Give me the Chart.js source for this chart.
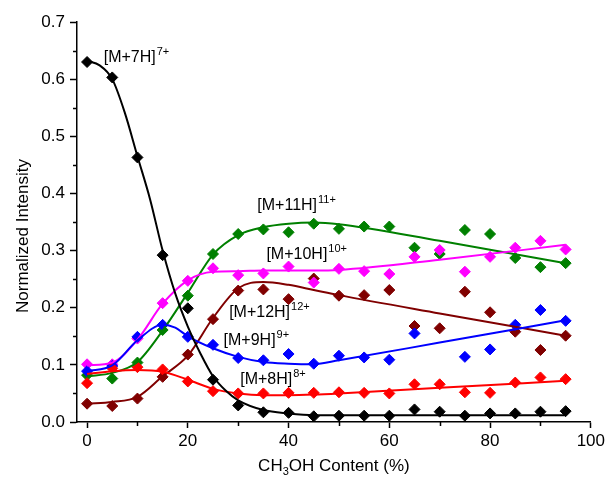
<!DOCTYPE html>
<html>
<head>
<meta charset="utf-8">
<script src="https://cdn.jsdelivr.net/npm/chart.js@4"></script>
<style>
  html, body { margin: 0; padding: 0; background: #fff; }
</style>
</head>
<body>
<canvas id="chart" width="608" height="483"></canvas>
<script>
// methanol content (%) for the measured points
const xPct = [0, 5, 10, 15, 20, 25, 30, 35, 40, 45, 50, 55, 60, 65, 70, 75, 80, 85, 90, 95];

// measured normalized intensities per charge state
const m7  = [0.630, 0.603, 0.463, 0.292, 0.199, 0.074, 0.029, 0.017, 0.016, 0.010, 0.011, 0.011, 0.011, 0.022, 0.018, 0.011, 0.015, 0.015, 0.018, 0.019];
const m8  = [0.068, 0.094, 0.096, 0.092, 0.071, 0.054, 0.050, 0.050, 0.051, 0.051, 0.052, 0.051, 0.050, 0.066, 0.066, 0.052, 0.051, 0.069, 0.078, 0.075];
const m9  = [0.089, 0.098, 0.149, 0.170, 0.149, 0.135, 0.112, 0.108, 0.119, 0.102, 0.116, 0.113, 0.109, 0.155, null, 0.114, 0.127, 0.170, 0.196, 0.177];
const m10 = [0.101, 0.101, 0.146, 0.208, 0.247, 0.269, 0.257, 0.260, 0.272, 0.244, 0.268, 0.264, 0.259, 0.289, 0.301, 0.263, 0.289, 0.305, 0.317, 0.302];
const m11 = [0.082, 0.076, 0.104, 0.161, 0.221, 0.294, 0.329, 0.337, 0.332, 0.347, 0.338, 0.342, 0.342, 0.305, 0.294, 0.336, 0.329, 0.287, 0.271, 0.278];
const m12 = [0.032, 0.028, 0.041, 0.079, 0.118, 0.180, 0.230, 0.232, 0.215, 0.251, 0.221, 0.222, 0.231, 0.168, 0.164, 0.228, 0.192, 0.158, 0.126, 0.151];

// fitted curves
const fit7X  = [0, 2.5, 5, 7.5, 10, 12.5, 15, 17.5, 20, 22.5, 25, 27.5, 30, 35, 40, 45, 95];
const fit7Y  = [0.632, 0.624, 0.600, 0.541, 0.465, 0.390, 0.300, 0.225, 0.167, 0.120, 0.080, 0.055, 0.038, 0.021, 0.015, 0.012, 0.012];
const fitX   = [0, 5, 10, 15, 20, 25, 30, 35, 40, 45, 50, 70, 95];
const fit8Y  = [0.084, 0.089, 0.091, 0.088, 0.074, 0.058, 0.050, 0.047, 0.047, 0.048, 0.050, 0.060, 0.072];
const fit10Y = [0.099, 0.104, 0.144, 0.207, 0.248, 0.263, 0.264, 0.265, 0.265, 0.265, 0.266, 0.284, 0.310];
const fit11Y = [0.080, 0.086, 0.105, 0.160, 0.226, 0.293, 0.327, 0.341, 0.347, 0.349, 0.346, 0.317, 0.278];
const fit12Y = [0.032, 0.035, 0.044, 0.080, 0.116, 0.182, 0.234, 0.245, 0.240, 0.231, 0.222, 0.190, 0.151];
const fit9X  = [0, 5, 10, 15, 17.5, 20, 25, 30, 35, 40, 45, 50, 70, 95];
const fit9Y  = [0.089, 0.099, 0.143, 0.170, 0.165, 0.150, 0.129, 0.114, 0.105, 0.102, 0.101, 0.108, 0.139, 0.178];

// axis ticks
const xTicks = [0, 20, 40, 60, 80, 100];
const xMinor = [10, 30, 50, 70, 90];
const yTicks = [0, 0.1, 0.2, 0.3, 0.4, 0.5, 0.6, 0.7];
const yMinor = [0.05, 0.15, 0.25, 0.35, 0.45, 0.55, 0.65];

// in-plot labels
const ionText   = ['[M+7H]', '[M+8H]', '[M+9H]', '[M+10H]', '[M+11H]', '[M+12H]'];
const ionCharge = ['7+', '8+', '9+', '10+', '11+', '12+'];
const labelX    = [3.3, 30.4, 27.1, 35.6, 33.8, 28.2];
const labelY    = [0.630, 0.066, 0.135, 0.285, 0.371, 0.184];

const colors = ['#000000', '#ff0000', '#0000ff', '#ff00ff', '#008000', '#800000'];
const FONT = '"Liberation Sans", Arial, sans-serif';

function pts(xs, ys) {
  return xs.map((x, i) => ({ x: x, y: ys[i] })).filter(p => p.y !== null);
}

function scatterSet(ys, c) {
  return {
    data: pts(xPct, ys),
    showLine: false,
    pointStyle: 'rectRot',
    pointRadius: 5.5,
    pointHoverRadius: 5.5,
    pointBackgroundColor: c,
    pointBorderColor: c,
    pointBorderWidth: 1
  };
}

function fitSet(xs, ys, c) {
  return {
    data: pts(xs, ys),
    showLine: true,
    borderColor: c,
    borderWidth: 2,
    pointRadius: 0,
    cubicInterpolationMode: 'monotone',
    fill: false
  };
}

const extras = {
  id: 'extras',
  afterDatasetsDraw(chart) {
    const ctx = chart.ctx;
    const x = chart.scales.x, y = chart.scales.y;
    ctx.save();
    ctx.fillStyle = '#000';
    ctx.strokeStyle = '#000';
    ctx.lineWidth = 1.5;

    // minor ticks
    ctx.beginPath();
    xMinor.forEach(v => {
      const px = Math.round(x.getPixelForValue(v)) + 0.5;
      ctx.moveTo(px, y.bottom);
      ctx.lineTo(px, y.bottom + 4);
    });
    yMinor.forEach(v => {
      const py = Math.round(y.getPixelForValue(v)) + 0.5;
      ctx.moveTo(x.left, py);
      ctx.lineTo(x.left - 4, py);
    });
    ctx.stroke();

    // ion labels with superscript charge
    ctx.textBaseline = 'alphabetic';
    ctx.textAlign = 'left';
    ionText.forEach((t, i) => {
      const px = x.getPixelForValue(labelX[i]);
      const py = y.getPixelForValue(labelY[i]);
      ctx.font = '16px ' + FONT;
      ctx.fillText(t, px, py);
      const w = ctx.measureText(t).width;
      ctx.font = '11px ' + FONT;
      ctx.fillText(ionCharge[i], px + w + 1, py - 7);
    });

    // y title
    ctx.save();
    ctx.translate(23, 236);
    ctx.rotate(-Math.PI / 2);
    ctx.font = '17px ' + FONT;
    ctx.textAlign = 'center';
    ctx.textBaseline = 'middle';
    ctx.fillText('Normalized Intensity', 0, 0);
    ctx.restore();

    // x title with subscript
    const parts = [['CH', 17, 0], ['3', 11, 4], ['OH Content (%)', 17, 0]];
    let total = 0;
    parts.forEach(p => { ctx.font = p[1] + 'px ' + FONT; total += ctx.measureText(p[0]).width; });
    let cx = (x.left + x.right) / 2 - total / 2;
    parts.forEach(p => {
      ctx.font = p[1] + 'px ' + FONT;
      ctx.fillText(p[0], cx, 471 + p[2]);
      cx += ctx.measureText(p[0]).width;
    });
    ctx.restore();
  }
};

new Chart(document.getElementById('chart'), {
  type: 'scatter',
  data: {
    datasets: [
      fitSet(fit7X, fit7Y, colors[0]),
      fitSet(fitX, fit8Y, colors[1]),
      fitSet(fit9X, fit9Y, colors[2]),
      fitSet(fitX, fit10Y, colors[3]),
      fitSet(fitX, fit11Y, colors[4]),
      fitSet(fitX, fit12Y, colors[5]),
      scatterSet(m7, colors[0]),
      scatterSet(m8, colors[1]),
      scatterSet(m9, colors[2]),
      scatterSet(m10, colors[3]),
      scatterSet(m11, colors[4]),
      scatterSet(m12, colors[5])
    ]
  },
  options: {
    responsive: false,
    animation: false,
    layout: { padding: { top: 22, right: 16, left: 0, bottom: 0 } },
    plugins: { legend: { display: false }, tooltip: { enabled: false } },
    scales: {
      x: {
        type: 'linear',
        min: -2,
        max: 100,
        afterBuildTicks: s => { s.ticks = xTicks.map(v => ({ value: v })); },
        afterFit: s => { s.height = 61; },
        ticks: { color: '#000', font: { size: 17, family: FONT }, padding: 3, maxRotation: 0 },
        grid: { drawOnChartArea: false, drawTicks: true, tickLength: 6, tickColor: '#000', tickWidth: 1.5 },
        border: { color: '#000', width: 1.5 }
      },
      y: {
        min: 0,
        max: 0.7,
        afterBuildTicks: s => { s.ticks = yTicks.map(v => ({ value: v })); },
        afterFit: s => { s.width = 77; },
        ticks: { color: '#000', font: { size: 17, family: FONT }, padding: 5, callback: v => v.toFixed(1) },
        grid: { drawOnChartArea: false, drawTicks: true, tickLength: 7, tickColor: '#000', tickWidth: 1.5 },
        border: { color: '#000', width: 1.5 }
      }
    }
  },
  plugins: [extras]
});
</script>
</body>
</html>
